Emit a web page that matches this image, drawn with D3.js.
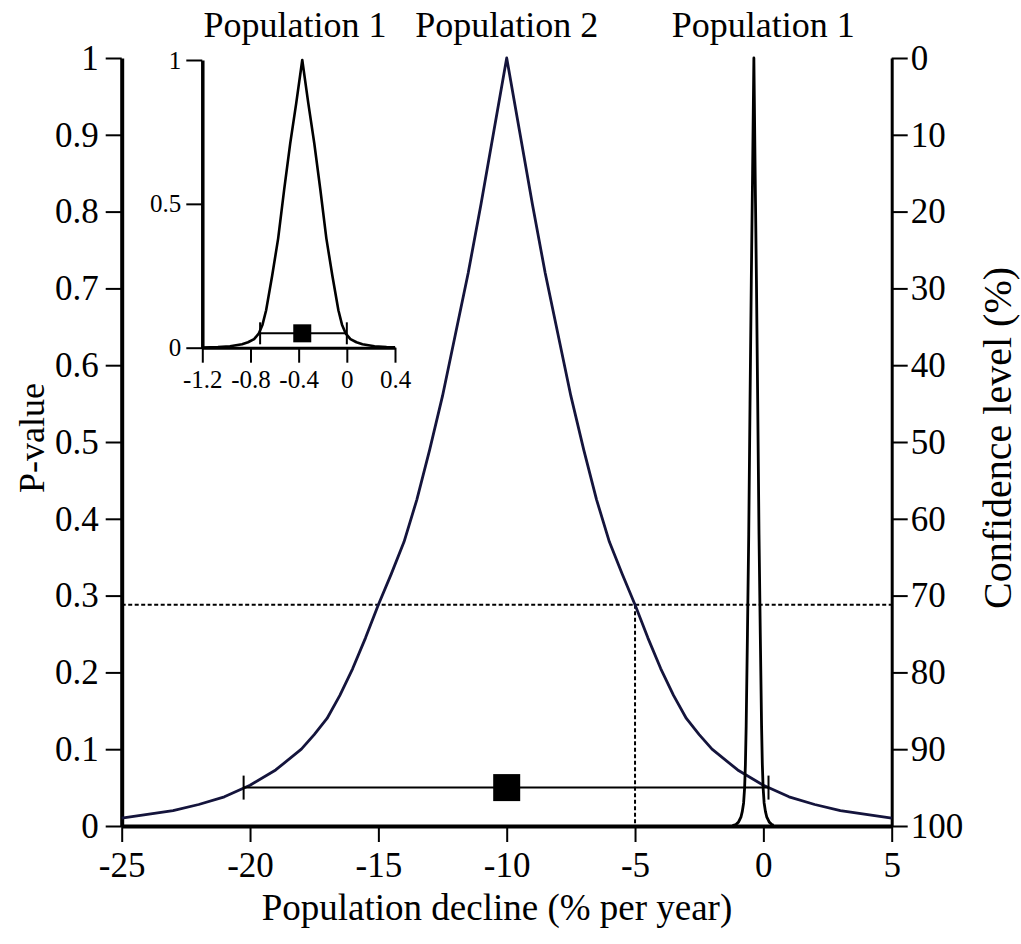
<!DOCTYPE html>
<html>
<head>
<meta charset="utf-8">
<script src="https://cdn.jsdelivr.net/npm/d3@7"></script>
<style>
  html, body { margin: 0; padding: 0; background: #fff; }
  svg { display: block; }
</style>
</head>
<body>
<svg id="chart" width="1021" height="944"></svg>
<script>
// Population 2: P-value curve over the rate of decline (% per year)
const pop2X = [-25,-24,-23,-22,-21,-20,-19,-18,-17.5,-17,-16.5,-16,-15.5,-15,-14.5,-14,-13.5,-13,
               -12.5,-12,-11.5,-11,-10.5,-10,-9.5,-9,-8.5,-8,-7.5,-7,-6.5,-6,-5.5,-5,-4.5,-4,
               -3.5,-3,-2.5,-2,-1,0,1,2,3,4,5];
const pop2P = [0.0104,0.015,0.020,0.028,0.038,0.053,0.073,0.100,0.119,0.140,0.170,0.205,0.245,
               0.288,0.328,0.370,0.425,0.490,0.560,0.640,0.720,0.810,0.905,1.000,0.905,0.810,
               0.720,0.640,0.560,0.490,0.425,0.370,0.328,0.288,0.245,0.205,0.170,0.140,0.119,
               0.100,0.073,0.053,0.038,0.028,0.020,0.015,0.0104];
const pop2Estimate = -10;
const pop2CI = [-20.25, 0.2];

// Population 1: much narrower P-value curve
const pop1X = [-1.20,-1.07,-0.97,-0.87,-0.82,-0.77,-0.73,-0.70,-0.67,-0.62,-0.57,-0.52,-0.47,-0.42,
               -0.37,-0.32,-0.27,-0.22,-0.17,-0.12,-0.07,-0.04,-0.01,0.03,0.08,0.13,0.23,0.33,0.40];
const pop1P = [0.0005,0.002,0.005,0.012,0.019,0.030,0.050,0.080,0.130,0.250,0.380,0.550,0.710,0.850,
               1.000,0.850,0.710,0.550,0.380,0.250,0.130,0.080,0.050,0.030,0.019,0.012,0.005,0.002,0.001];
const pop1Estimate = -0.37;
const pop1CI = [-0.72, 0.0];

// Significance level of the interval bars and the 0.288 reading at -5 % per year
const alphaLevel = 0.05;
const refP = 0.288;
const refX = -5;

// Tick values
const xTicks = [-25,-20,-15,-10,-5,0,5];
const pTicks = [0,0.1,0.2,0.3,0.4,0.5,0.6,0.7,0.8,0.9,1];
const confTicks = [0,10,20,30,40,50,60,70,80,90,100];
const insetXTicks = [-1.2,-0.8,-0.4,0,0.4];
const insetPTicks = [0,0.5,1];

const titleTexts = [
  { label: "Population 1", at: "inset" },
  { label: "Population 2", at: pop2Estimate },
  { label: "Population 1", at: 0 }
];

const FONT = '"Liberation Serif", Times, "Times New Roman", serif';
const svg = d3.select("#chart").attr("font-family", FONT);
const fmt = d => String(+d.toFixed(2));

// ---- main panel ----
const x = d3.scaleLinear().domain([-25, 5]).range([121.7, 891.7]);
const y = d3.scaleLinear().domain([0, 1]).range([826, 58]);
const yConf = d3.scaleLinear().domain([0, 100]).range([58, 826]);

const main = svg.append("g");

function styleAxis(g, domainW, tickW, fontSize) {
  g.attr("font-family", FONT).attr("font-size", fontSize);
  g.select(".domain").attr("stroke", "#000").attr("stroke-width", domainW);
  g.selectAll(".tick line").attr("stroke", "#000").attr("stroke-width", tickW);
  g.selectAll(".tick text").attr("fill", "#000");
}

main.append("g")
  .attr("transform", `translate(0,${y(0)})`)
  .call(d3.axisBottom(x).tickValues(xTicks).tickFormat(d => String(d))
        .tickSize(16).tickSizeOuter(0).tickPadding(10))
  .call(g => styleAxis(g, 4, 2, 35));

main.append("g")
  .attr("transform", `translate(${x(-25)},0)`)
  .call(d3.axisLeft(y).tickValues(pTicks).tickFormat(fmt)
        .tickSize(16).tickSizeOuter(0).tickPadding(7))
  .call(g => styleAxis(g, 4, 2, 35));

main.append("g")
  .attr("transform", `translate(${x(5)},0)`)
  .call(d3.axisRight(yConf).tickValues(confTicks).tickFormat(d => String(d))
        .tickSize(16).tickSizeOuter(0).tickPadding(3))
  .call(g => styleAxis(g, 3, 2, 35));

// reference lines at P = 0.288
main.append("line")
  .attr("x1", x(-25)).attr("x2", x(5))
  .attr("y1", y(refP)).attr("y2", y(refP))
  .attr("stroke", "#000").attr("stroke-width", 2).attr("stroke-dasharray", "4,2.5");
main.append("line")
  .attr("x1", x(refX)).attr("x2", x(refX))
  .attr("y1", y(refP)).attr("y2", y(0))
  .attr("stroke", "#000").attr("stroke-width", 2).attr("stroke-dasharray", "4,2.5");

const lineMain = d3.line().x(d => x(d[0])).y(d => y(d[1]));

main.append("path")
  .datum(pop2X.map((v, i) => [v, pop2P[i]]))
  .attr("d", lineMain)
  .attr("fill", "none").attr("stroke", "#14143c").attr("stroke-width", 2.8)
  .attr("stroke-linejoin", "round");

main.append("path")
  .datum(pop1X.map((v, i) => [v, pop1P[i]]))
  .attr("d", lineMain)
  .attr("fill", "none").attr("stroke", "#000").attr("stroke-width", 2.8)
  .attr("stroke-linejoin", "round");

// interval bar with end caps and a square at the estimate
function ciBar(g, sx, sy, ci, est, cap, box) {
  g.append("line")
    .attr("x1", sx(ci[0])).attr("x2", sx(ci[1]))
    .attr("y1", sy(alphaLevel)).attr("y2", sy(alphaLevel))
    .attr("stroke", "#000").attr("stroke-width", 2);
  ci.forEach(v => g.append("line")
    .attr("x1", sx(v)).attr("x2", sx(v))
    .attr("y1", sy(alphaLevel) - cap).attr("y2", sy(alphaLevel) + cap)
    .attr("stroke", "#000").attr("stroke-width", 2));
  g.append("rect")
    .attr("x", sx(est) - box / 2).attr("y", sy(alphaLevel) - box / 2)
    .attr("width", box).attr("height", box).attr("fill", "#000");
}
ciBar(main, x, y, pop2CI, pop2Estimate, 12, 27);

// ---- inset: population 1 close-up ----
const xi = d3.scaleLinear().domain([-1.2, 0.4]).range([202.3, 395]);
const yi = d3.scaleLinear().domain([0, 1]).range([347.7, 60]);
const inset = svg.append("g");

inset.append("g")
  .attr("transform", `translate(0,${yi(0)})`)
  .call(d3.axisBottom(xi).tickValues(insetXTicks).tickFormat(fmt)
        .tickSize(15).tickSizeOuter(0).tickPadding(8))
  .call(g => styleAxis(g, 3, 2, 25));

inset.append("g")
  .attr("transform", `translate(${xi(-1.2)},0)`)
  .call(d3.axisLeft(yi).tickValues(insetPTicks).tickFormat(fmt)
        .tickSize(16).tickSizeOuter(0).tickPadding(5))
  .call(g => styleAxis(g, 3.5, 2, 25));

inset.append("path")
  .datum(pop1X.map((v, i) => [v, pop1P[i]]))
  .attr("d", d3.line().x(d => xi(d[0])).y(d => yi(d[1])))
  .attr("fill", "none").attr("stroke", "#000").attr("stroke-width", 2.6)
  .attr("stroke-linejoin", "round");

ciBar(inset, xi, yi, pop1CI, pop1Estimate, 11, 18);

// ---- titles ----
svg.selectAll("text.title")
  .data(titleTexts)
  .join("text")
  .attr("class", "title")
  .attr("x", d => d.at === "inset" ? 295 : x(d.at))
  .attr("y", 37)
  .attr("text-anchor", "middle")
  .attr("font-size", 36)
  .text(d => d.label);

svg.append("text")
  .attr("x", 497).attr("y", 920)
  .attr("text-anchor", "middle")
  .attr("font-size", 37)
  .text("Population decline (% per year)");

svg.append("text")
  .attr("transform", "translate(44,438) rotate(-90)")
  .attr("text-anchor", "middle")
  .attr("font-size", 36)
  .text("P-value");

svg.append("text")
  .attr("transform", "translate(1011,438) rotate(-90)")
  .attr("text-anchor", "middle")
  .attr("font-size", 40)
  .text("Confidence level (%)");
</script>
</body>
</html>
